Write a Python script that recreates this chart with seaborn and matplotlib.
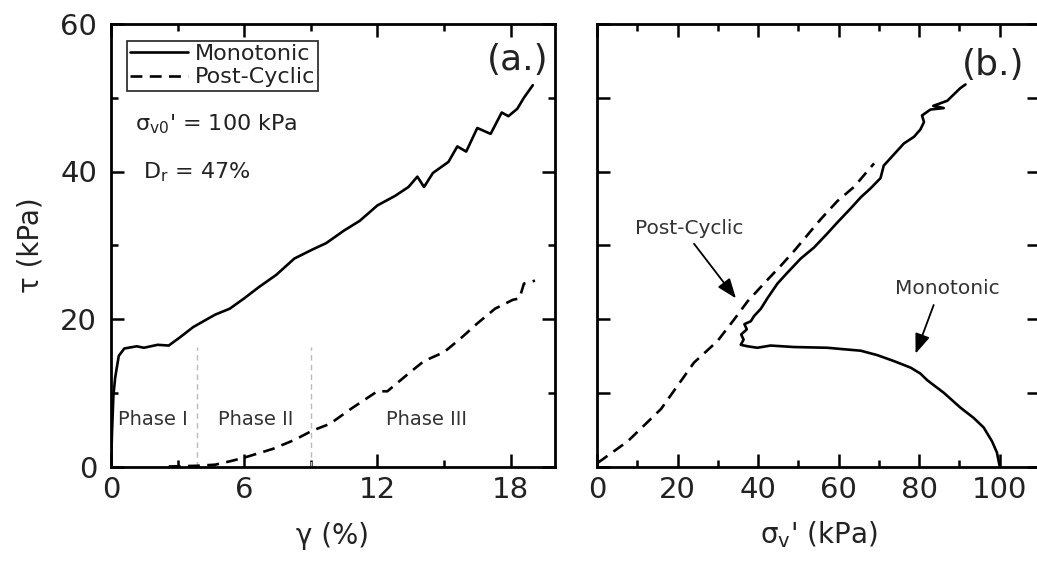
import matplotlib
matplotlib.use("Agg")
import matplotlib.pyplot as plt
import seaborn as sns
import pandas as pd

# ---------------- data ----------------
# (a.) shear strain gamma (%) vs shear stress tau (kPa)
mono_gamma = [0.0, 0.05, 0.11, 0.19, 0.35, 0.6, 1.16, 1.48, 2.1, 2.6, 3.1, 3.7, 4.4,
              4.7, 5.35, 6.0, 6.65, 7.45, 8.26, 9.06, 9.7, 10.5, 11.2, 12.0, 12.8,
              13.4, 13.8, 14.1, 14.5, 15.2, 15.6, 16.0, 16.5, 17.1, 17.6, 17.9, 18.3,
              18.6, 19.0]
mono_tau_a = [0.0, 5.0, 9.7, 12.1, 15.0, 16.0, 16.3, 16.1, 16.5, 16.4, 17.5, 18.9, 20.1,
              20.6, 21.4, 22.8, 24.3, 26.0, 28.2, 29.4, 30.3, 32.0, 33.3, 35.4, 36.7,
              37.9, 39.3, 37.9, 39.8, 41.3, 43.4, 42.7, 45.9, 45.1, 48.0, 47.5, 48.5,
              50.0, 51.7]

post_gamma = [2.6, 3.3, 3.9, 4.7, 5.35, 6.0, 7.3, 8.26, 9.06, 9.87, 10.8, 12.0, 12.45,
              13.4, 14.1, 15.0, 15.8, 16.5, 17.3, 18.1, 18.4, 18.6, 19.1]
post_tau_a = [0.0, 0.05, 0.1, 0.25, 0.7, 1.2, 2.4, 3.6, 4.85, 5.8, 7.8, 10.2, 10.2,
              12.6, 14.3, 15.5, 17.5, 19.4, 21.4, 22.6, 22.8, 24.8, 25.2]

# (b.) vertical effective stress (kPa) vs shear stress tau (kPa)
mono_sigma = [100.0, 99.3, 98.1, 96.0, 93.5, 90.2, 86.1, 82.0, 80.3, 77.9, 73.7, 69.6,
              65.5, 61.3, 57.2, 48.9, 43.1, 39.8, 37.4, 35.7, 36.4, 35.8, 37.2, 36.6,
              38.2, 39.0, 40.7, 42.3, 44.8, 47.3, 50.6, 53.9, 57.2, 59.7, 63.0, 65.5,
              67.9, 70.4, 71.2, 73.7, 76.2, 78.7, 80.3, 81.2, 80.7, 82.8, 86.1, 83.5,
              87.0, 90.2, 91.5]
mono_tau_b = [0.0, 1.9, 3.4, 5.3, 6.6, 8.0, 10.0, 11.7, 12.6, 13.4, 14.3, 15.1,
              15.7, 15.9, 16.1, 16.2, 16.4, 16.1, 16.3, 16.5, 17.2, 17.9, 18.6, 19.3,
              19.7, 20.4, 21.4, 22.8, 24.8, 26.3, 28.2, 29.7, 31.6, 33.1, 35.0, 36.5,
              37.7, 39.1, 40.8, 42.3, 43.8, 44.7, 45.7, 46.7, 47.6, 48.4, 48.6, 48.9,
              49.6, 51.3, 51.8]

post_sigma = [0.2, 7.6, 15.9, 24.1, 29.9, 34.0, 37.4, 42.3, 45.6, 48.9, 55.5, 59.7,
              63.8, 68.8]
post_tau_b = [0.5, 3.4, 7.8, 14.1, 17.0, 19.9, 22.4, 25.3, 27.2, 29.2, 33.5, 36.0,
              37.9, 41.1]

phase_bounds = [3.87, 9.03]
phase_labels = ["Phase I", "Phase II", "Phase III"]
phase_label_x = [1.9, 6.5, 14.2]

# ---------------- style ----------------
sns.set_theme(style="ticks")
plt.rcParams["font.family"] = ["DejaVu Sans"]
plt.rcParams["mathtext.default"] = "regular"
TXT = "#222222"

fig = plt.figure(figsize=(10.37, 5.63), dpi=100)
axA = fig.add_axes([111 / 1037, 96.5 / 563, 444 / 1037, 442.5 / 563])
axB = fig.add_axes([597 / 1037, 96.5 / 563, 443 / 1037, 442.5 / 563])

dash = (0, (4.5, 2.8))
LW = 1.9

dfa_m = pd.DataFrame({"x": mono_gamma, "y": mono_tau_a})
dfa_p = pd.DataFrame({"x": post_gamma, "y": post_tau_a})
dfb_m = pd.DataFrame({"x": mono_sigma, "y": mono_tau_b})
dfb_p = pd.DataFrame({"x": post_sigma, "y": post_tau_b})

sns.lineplot(data=dfa_m, x="x", y="y", ax=axA, color="black", lw=LW, sort=False,
             estimator=None, label="Monotonic")
sns.lineplot(data=dfa_p, x="x", y="y", ax=axA, color="black", lw=LW, sort=False,
             estimator=None, label="Post-Cyclic", linestyle=dash)
sns.lineplot(data=dfb_m, x="x", y="y", ax=axB, color="black", lw=LW, sort=False,
             estimator=None, legend=False)
sns.lineplot(data=dfb_p, x="x", y="y", ax=axB, color="black", lw=LW, sort=False,
             estimator=None, legend=False, linestyle=dash)

# phase boundaries
for xb in phase_bounds:
    axA.plot([xb, xb], [0, 16.2], color="#bbbbbb", lw=1.0, ls=(0, (4, 3)), zorder=1)
for xl, lab in zip(phase_label_x, phase_labels):
    axA.text(xl, 6.4, lab, ha="center", va="center", fontsize=14, color="#333333")

# axes formatting
axA.set_xlim(0, 20)
axA.set_ylim(0, 60)
axA.set_xticks([0, 6, 12, 18])
axA.set_xticks([3, 9, 15], minor=True)
axA.set_yticks([0, 20, 40, 60])
axA.set_yticks([10, 30, 50], minor=True)

axB.set_xlim(0, 110)
axB.set_ylim(0, 60)
axB.set_xticks([0, 20, 40, 60, 80, 100])
axB.set_xticks([10, 30, 50, 70, 90], minor=True)
axB.set_yticks([0, 10, 20, 30, 40, 50, 60])
axB.set_yticklabels([])

for ax in (axA, axB):
    for s in ax.spines.values():
        s.set_linewidth(2.0)
        s.set_color("black")
    ax.tick_params(which="both", direction="in", top=True, right=True,
                   width=1.8, color="black", labelsize=21, labelcolor=TXT)
    ax.tick_params(which="major", length=9.5)
    ax.tick_params(which="minor", length=5)
    ax.tick_params(axis="x", pad=7)
    ax.tick_params(axis="y", pad=10)

axA.set_xlabel("γ (%)", fontsize=20, color=TXT, labelpad=13)
axA.set_ylabel("τ (kPa)", fontsize=20, color=TXT, labelpad=11)
axB.set_xlabel("σ$_{v}$' (kPa)", fontsize=20, color=TXT, labelpad=11)
axB.set_ylabel("")

# legend
leg = axA.legend(loc="upper left", bbox_to_anchor=(0.036, 0.962), fontsize=16,
                 frameon=True, fancybox=False, borderpad=0.15, labelspacing=0.15,
                 handlelength=2.6, handletextpad=0.3, borderaxespad=0.0)
leg.get_frame().set_edgecolor("black")
leg.get_frame().set_linewidth(1.3)
for t in leg.get_texts():
    t.set_color(TXT)

axA.text(1.1, 46.4, "σ$_{v0}$' = 100 kPa", fontsize=16, color=TXT, va="center", ha="left")
axA.text(1.45, 39.9, "D$_{r}$ = 47%", fontsize=16, color=TXT, va="center", ha="left")
axA.text(18.3, 55.1, "(a.)", fontsize=26, color=TXT, ha="center", va="center")
axB.text(98.3, 54.5, "(b.)", fontsize=26, color=TXT, ha="center", va="center")

arrow = dict(arrowstyle="-|>,head_length=1.0,head_width=0.38", color="black", lw=1.3,
             shrinkA=0, shrinkB=0)
axB.text(22.9, 32.3, "Post-Cyclic", fontsize=14.5, color="#333333",
         ha="center", va="center")
axB.annotate("", xy=(34.5, 22.8), xytext=(24.1, 30.2), arrowprops=arrow)
axB.text(86.9, 24.1, "Monotonic", fontsize=14.5, color="#333333",
         ha="center", va="center")
axB.annotate("", xy=(79.1, 15.3), xytext=(83.6, 21.9), arrowprops=arrow)

fig.savefig("out.png", dpi=100)
